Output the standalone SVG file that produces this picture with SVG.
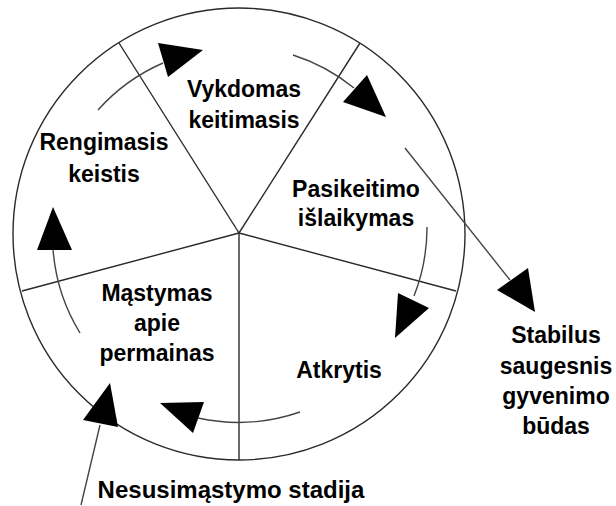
<svg xmlns="http://www.w3.org/2000/svg" width="616" height="506" viewBox="0 0 616 506">
<style>
.wheel{fill:none;stroke:#2a2a2a;stroke-width:1.4}
.arc{fill:none;stroke:#444;stroke-width:1.4}
.head{fill:#000;stroke:none}
text{font-family:"Liberation Sans",Arial,sans-serif;font-weight:bold;font-size:23px;fill:#000;text-anchor:middle}
</style>
<rect width="616" height="506" fill="#fff"/>
<g id="wheel" class="wheel">
<circle cx="239" cy="234" r="226"/>
<path d="M239,233 L119,43 M239,233 L360,43 M239,233 L22,291 M239,233 L456,291 M239,233 L239,460"/>
</g>
<g id="connectors">
<path class="arc" d="M98,110 A187,187 0 0 1 163,63"/>
<path class="arc" d="M293,55 A186,186 0 0 1 354,88"/>
<path class="arc" d="M427,227 A187,187 0 0 1 414,296"/>
<path class="arc" d="M300,412 A189,189 0 0 1 198,418"/>
<path class="arc" d="M80,333 A187,187 0 0 1 53,249"/>
<path class="arc" d="M405,148 L510,280"/>
<path class="arc" d="M81,505 L100,425"/>
<polygon class="head" points="158,43 203,50 168,77"/>
<polygon class="head" points="367,75 386,117 343,102"/>
<polygon class="head" points="398,293 429,308 395,338"/>
<polygon class="head" points="160,403 204,402 193,433"/>
<polygon class="head" points="110,383 83,420 118,427"/>
<polygon class="head" points="53,207 37,250 72,250"/>
<polygon class="head" points="497,290 528,268 535,312"/>
</g>
<g id="vykdomas"><text x="244" y="97">Vykdomas</text><text x="244" y="128">keitimasis</text></g>
<g id="rengimasis"><text x="104" y="150">Rengimasis</text><text x="104" y="182">keistis</text></g>
<g id="pasikeitimo"><text x="356" y="197">Pasikeitimo</text><text x="356" y="226">išlaikymas</text></g>
<g id="mastymas"><text x="157" y="301">Mąstymas</text><text x="157" y="331">apie</text><text x="157" y="361">permainas</text></g>
<g id="atkrytis"><text x="339" y="378">Atkrytis</text></g>
<g id="stabilus"><text x="556" y="343">Stabilus</text><text x="556" y="374">saugesnis</text><text x="556" y="404">gyvenimo</text><text x="556" y="434">būdas</text></g>
<g id="nesusimastymo"><text x="231" y="498" style="font-size:24px">Nesusimąstymo stadija</text></g>
</svg>
